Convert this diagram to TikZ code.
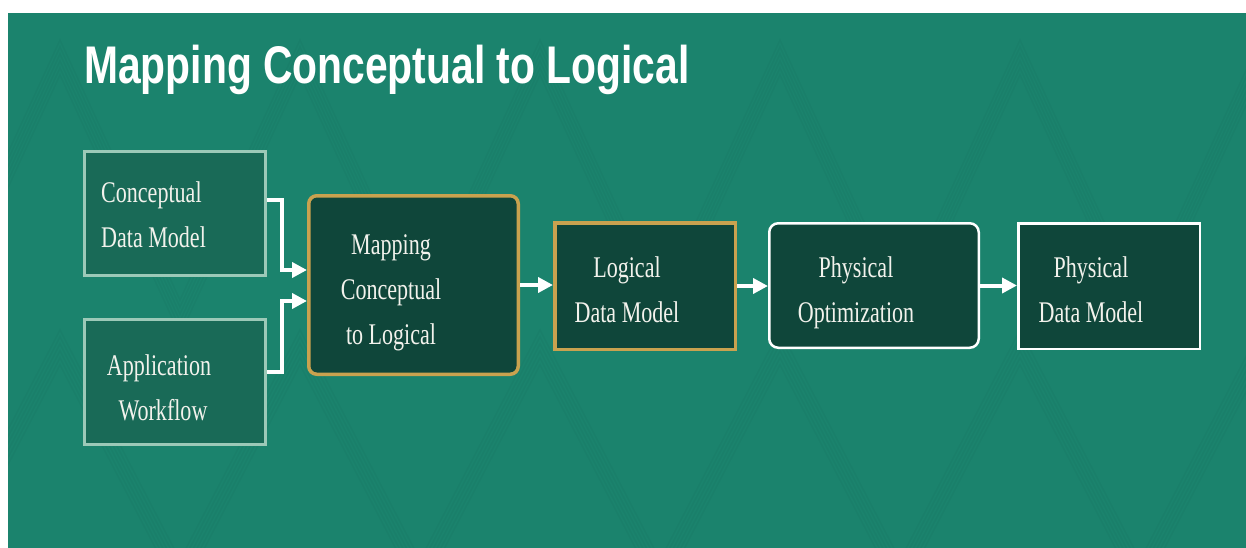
\documentclass[tikz,border=0pt]{standalone}
\usepackage{fontspec}
\setmainfont{Liberation Serif}
\newfontfamily\titlefont[FakeStretch=0.77]{Liberation Sans}
\newfontfamily\boxfont[FakeStretch=0.735]{Liberation Serif}
\usetikzlibrary{arrows.meta,calc}

\definecolor{slidebg}{HTML}{1B836D}
\definecolor{softfill}{HTML}{196A57}
\definecolor{softedge}{HTML}{9CC9B8}
\definecolor{deepfill}{HTML}{0F463A}
\definecolor{goldedge}{HTML}{C9A24F}
\definecolor{boxtext}{HTML}{F2F2EC}

\tikzset{
  softbox/.style={draw=softedge, line width=3pt, fill=softfill, inner sep=0pt},
  goldbox/.style={draw=goldedge, line width=3.5pt, fill=deepfill, inner sep=0pt},
  whitebox/.style={draw=white, line width=2.5pt, fill=deepfill, inner sep=0pt},
  boxlabel/.style={text=boxtext, inner sep=0pt, align=center, anchor=north,
    font=\boxfont\fontsize{30}{45}\selectfont},
  conn/.style={draw=white, line width=4pt,
    -{Triangle[length=15pt,width=15pt]}},
  weave/.style={draw=black, opacity=0.025, line width=1.4pt},
}

\begin{document}
\begin{tikzpicture}[x=1pt,y=-1pt]
  % page and slide background
  \fill[white] (0,0) rectangle (1246,548);
  \fill[slidebg] (8,13) rectangle (1246,548);
  \useasboundingbox (0,0) rectangle (1246,548);

  % faint woven chevron texture
  \begin{scope}
    \clip (8,13) rectangle (1246,548);
    \foreach \k in {0,7,...,35} {
      \draw[weave] (-60,{300+\k}) -- (60,{40+\k}) -- (180,{300+\k}) -- (300,{40+\k})
        -- (420,{300+\k}) -- (540,{40+\k}) -- (660,{300+\k}) -- (780,{40+\k})
        -- (900,{300+\k}) -- (1020,{40+\k}) -- (1140,{300+\k}) -- (1260,{40+\k});
      \draw[weave] (-60,{560+\k}) -- (60,{330+\k}) -- (180,{560+\k}) -- (300,{330+\k})
        -- (420,{560+\k}) -- (540,{330+\k}) -- (660,{560+\k}) -- (780,{330+\k})
        -- (900,{560+\k}) -- (1020,{330+\k}) -- (1140,{560+\k}) -- (1260,{330+\k});
    }
  \end{scope}

  % title
  \node[anchor=base west, inner sep=0pt, text=white,
        font=\titlefont\bfseries\fontsize{53}{60}\selectfont]
        (title) at (84,84) {Mapping Conceptual to Logical};

  % boxes
  \node[softbox, minimum width=181pt, minimum height=124pt] (cdm) at (175,213.5) {};
  \node[softbox, minimum width=181pt, minimum height=125pt] (app) at (175,382) {};
  \node[goldbox, rounded corners=8pt, minimum width=209.5pt, minimum height=178.5pt] (map) at (413.5,285) {};
  \node[goldbox, minimum width=180.5pt, minimum height=126.5pt] (ldm) at (645,286) {};
  \node[whitebox, rounded corners=9pt, minimum width=209.5pt, minimum height=124.5pt] (opt) at (874,285.5) {};
  \node[whitebox, minimum width=181.5pt, minimum height=125.5pt] (pdm) at (1109,286) {};

  % box texts
  \node[boxlabel, anchor=north west, align=left] (cdmtext) at (101,181.2) {Conceptual\\Data Model};
  \node[boxlabel] (apptext) at (159,354.5) {Application\\\hspace{8pt}Workflow};
  \node[boxlabel] (maptext) at (391,234.5) {Mapping\\Conceptual\\to Logical};
  \node[boxlabel] (ldmtext) at (627,256.2) {Logical\\Data Model};
  \node[boxlabel] (opttext) at (856,256.2) {Physical\\Optimization};
  \node[boxlabel] (pdmtext) at (1091,256.2) {Physical\\Data Model};

  % connectors
  \draw[conn] ($(cdm.east)+(0,-13.5)$) -- ++(15,0) |- ($(map.west)+(0,-15)$);
  \draw[conn] ($(app.east)+(0,-10)$) -- ++(15,0) |- ($(map.west)+(0,16)$);
  \draw[conn] (map.east) -- (map.east -| ldm.west);
  \draw[conn] (ldm.east) -- (ldm.east -| opt.west);
  \draw[conn] (opt.east) -- (opt.east -| pdm.west);
\end{tikzpicture}
\end{document}
